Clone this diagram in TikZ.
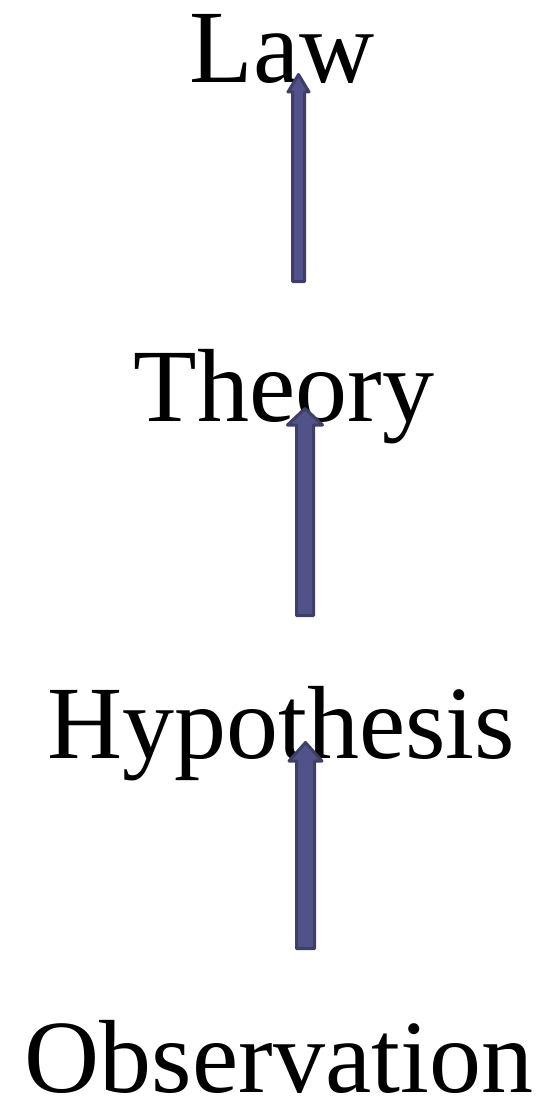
\documentclass[tikz,border=0pt]{standalone}
\usepackage{fontspec}
\setmainfont{Liberation Serif}
\definecolor{arrowfill}{RGB}{82,82,138}
\definecolor{arrowline}{RGB}{62,62,102}
\tikzset{
  word/.style={anchor=base, inner sep=0pt, font=\fontsize{104}{104}\selectfont},
  blockarrow/.style={fill=arrowfill, draw=arrowline, line width=3pt, line join=round}
}
\begin{document}
\begin{tikzpicture}[x=1pt,y=-1pt]
\useasboundingbox (0,0) rectangle (550,1105);
\node[word] (law) at (282,83) {Law};
\node[word] (theory) at (284,421) {Theory};
\node[word] (hyp) at (281,758) {Hypothesis};
\node[word] (obs) at (279,1092) {Observation};
% arrow 1: Theory -> Law
\coordinate (a1tip) at (298.5,74.5);
\coordinate (a1tail) at (298.5,281.5);
\path[blockarrow] (a1tip) -- ++(10.5,17.5) -- ++(-4.5,0) |- ([xshift=6pt]a1tail) -- ([xshift=-6pt]a1tail) -- ++(0,-189.5) -- ++(-4.5,0) -- cycle;
% arrow 2: Hypothesis -> Theory
\coordinate (a2tip) at (305,408.5);
\coordinate (a2tail) at (305,615.5);
\path[blockarrow] (a2tip) -- ++(17.5,16.5) -- ++(-9,0) |- ([xshift=8.5pt]a2tail) -- ([xshift=-8.5pt]a2tail) -- ++(0,-190.5) -- ++(-9,0) -- cycle;
% arrow 3: Observation -> Hypothesis
\coordinate (a3tip) at (305.5,742.5);
\coordinate (a3tail) at (305.5,948.5);
\path[blockarrow] (a3tip) -- ++(16.5,18.5) -- ++(-7.5,0) |- ([xshift=9pt]a3tail) -- ([xshift=-9pt]a3tail) -- ++(0,-187.5) -- ++(-7.5,0) -- cycle;
\end{tikzpicture}
\end{document}
